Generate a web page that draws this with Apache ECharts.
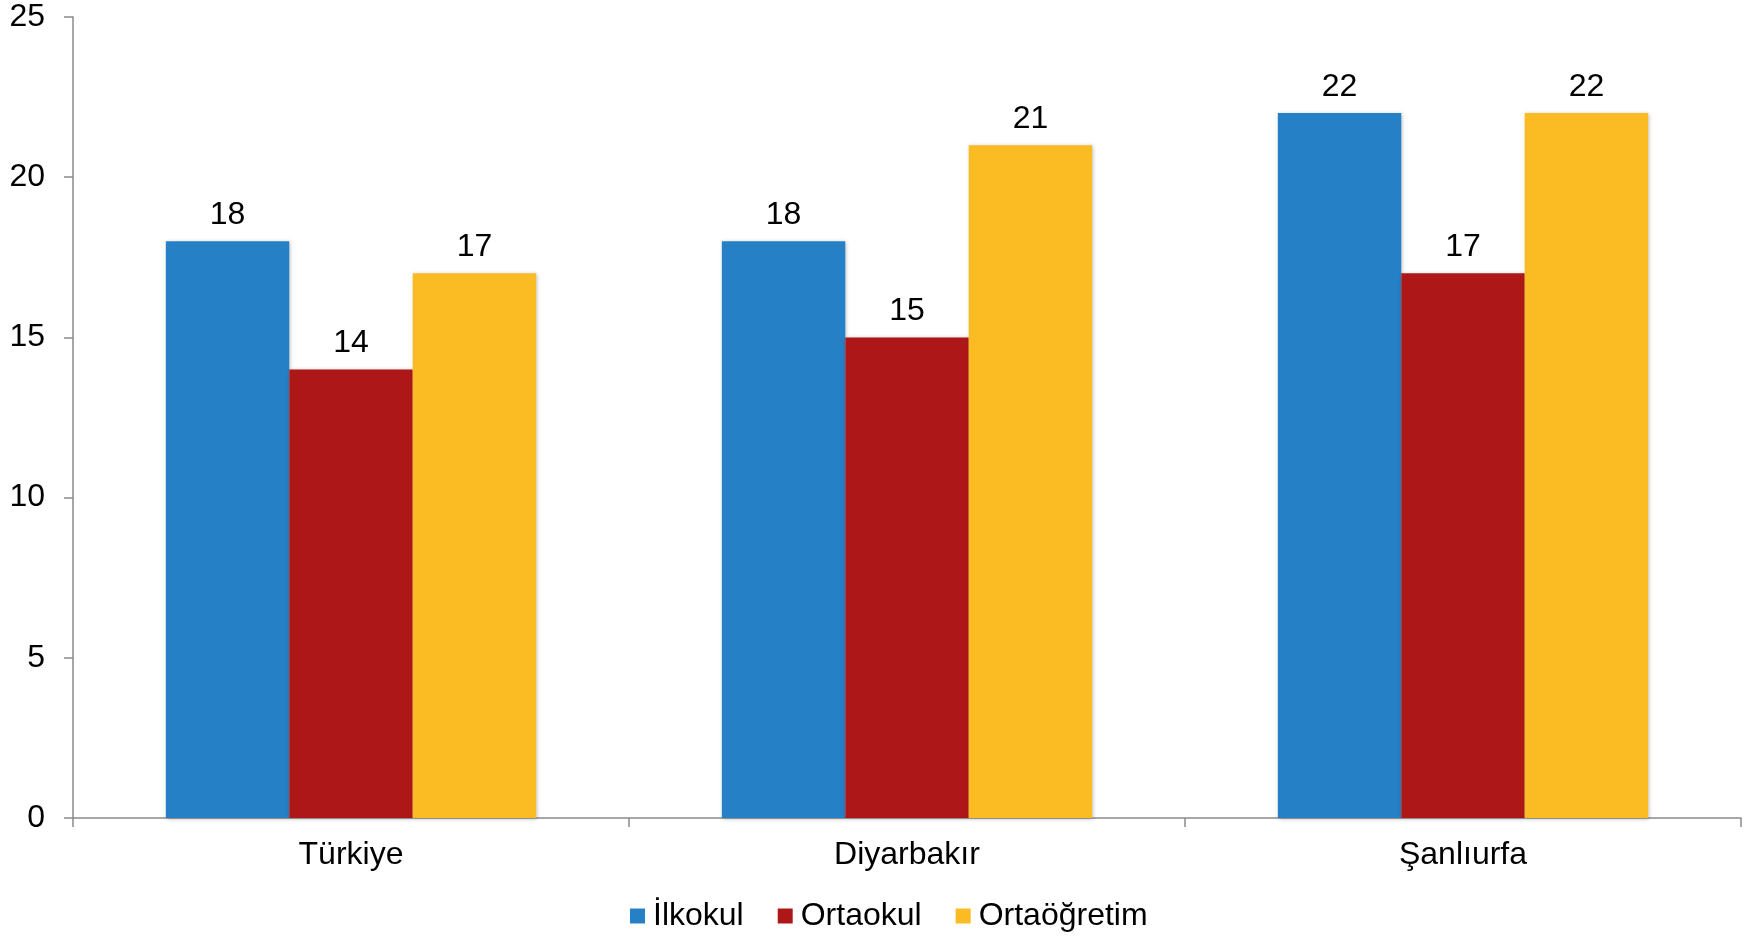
<!DOCTYPE html>
<html>
<head>
<meta charset="utf-8">
<script src="https://cdn.jsdelivr.net/npm/echarts@6/dist/echarts.min.js"></script>
<style>
  html, body { margin: 0; padding: 0; background: #fff; }
  #chart { width: 1746px; height: 938px; }
</style>
</head>
<body>
<div id="chart"></div>
<script>
var categories = ["Türkiye", "Diyarbakır", "Şanlıurfa"];
var seriesNames = ["İlkokul", "Ortaokul", "Ortaöğretim"];
var ilkokul = [18, 18, 22];
var ortaokul = [14, 15, 17];
var ortaogretim = [17, 21, 22];
var colors = ["#2680C6", "#AE1717", "#FBBB23"];

var font = "Liberation Sans, Arial, sans-serif";
var axisColor = "#8a8a8a";
var fontSize = 32;

var myChart = echarts.init(document.getElementById("chart"));

function makeSeries(name, data, color) {
  return {
    name: name,
    type: "bar",
    data: data,
    barGap: "0%",
    barCategoryGap: "33.4%",
    itemStyle: {
      color: color,
      shadowColor: "rgba(0,0,0,0.25)",
      shadowBlur: 4,
      shadowOffsetX: 1,
      shadowOffsetY: 1,
    },
    label: {
      show: true,
      position: "top",
      distance: 10,
      color: "#000",
      fontFamily: font,
      fontSize: fontSize,
    },
  };
}

myChart.setOption({
  animation: false,
  color: colors,
  grid: {
    left: 73,
    right: 5,
    top: 17,
    bottom: 120,
  },
  legend: {
    left: 625,
    top: 895,
    icon: "rect",
    itemWidth: 15,
    itemHeight: 15,
    itemGap: 34,
    textStyle: {
      fontFamily: font,
      fontSize: fontSize,
      color: "#000",
      padding: [0, 0, 0, 3],
    },
    data: seriesNames,
  },
  xAxis: {
    type: "category",
    data: categories,
    axisLine: { lineStyle: { color: axisColor, width: 1.5 } },
    axisTick: { show: true, length: 9, lineStyle: { color: axisColor, width: 1.5 } },
    axisLabel: {
      margin: 21,
      color: "#000",
      fontFamily: font,
      fontSize: fontSize,
    },
  },
  yAxis: {
    type: "value",
    min: 0,
    max: 25,
    interval: 5,
    splitLine: { show: false },
    axisLine: { show: true, lineStyle: { color: axisColor, width: 1.5 } },
    axisTick: { show: true, length: 9, lineStyle: { color: axisColor, width: 1.5 } },
    axisLabel: {
      margin: 28,
      color: "#000",
      fontFamily: font,
      fontSize: fontSize,
    },
  },
  series: [
    makeSeries(seriesNames[0], ilkokul, colors[0]),
    makeSeries(seriesNames[1], ortaokul, colors[1]),
    makeSeries(seriesNames[2], ortaogretim, colors[2]),
  ],
});

window.addEventListener("resize", () => {
  myChart.resize();
});
</script>
</body>
</html>
